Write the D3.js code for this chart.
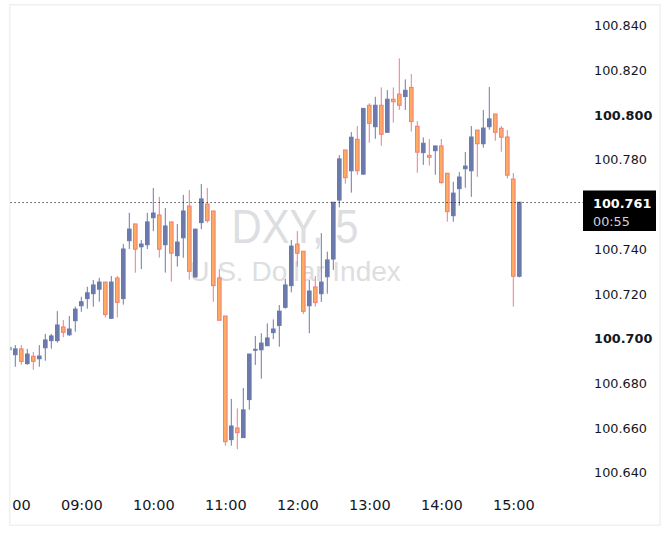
<!DOCTYPE html>
<html>
<head>
<meta charset="utf-8">
<script src="https://cdn.jsdelivr.net/npm/d3@7"></script>
<style>
  body { margin: 0; background: #fff; }
  svg { display: block; }
</style>
</head>
<body>
<div class="CHART"></div>
<script>

// 5 minute candles, DXY
var times = [
  "08:00","08:05","08:10","08:15","08:20","08:25","08:30","08:35","08:40","08:45",
  "08:50","08:55","09:00","09:05","09:10","09:15","09:20","09:25","09:30","09:35",
  "09:40","09:45","09:50","09:55","10:00","10:05","10:10","10:15","10:20","10:25",
  "10:30","10:35","10:40","10:45","10:50","10:55","11:00","11:05","11:10","11:15",
  "11:20","11:25","11:30","11:35","11:40","11:45","11:50","11:55","12:00","12:05",
  "12:10","12:15","12:20","12:25","12:30","12:35","12:40","12:45","12:50","12:55",
  "13:00","13:05","13:10","13:15","13:20","13:25","13:30","13:35","13:40","13:45",
  "13:50","13:55","14:00","14:05","14:10","14:15","14:20","14:25","14:30","14:35",
  "14:40","14:45","14:50","14:55","15:00","15:05"];

var opens = [
  100.6950,100.6928,100.6954,100.6888,100.6921,100.6910,100.6959,100.6991,100.6991,100.7052,
  100.7017,100.7080,100.7147,100.7179,100.7201,100.7221,100.7253,100.7091,100.7271,100.7179,
  100.7438,100.7513,100.7411,100.7420,100.7541,100.7553,100.7420,100.7522,100.7371,100.7451,
  100.7593,100.7276,100.7519,100.7602,100.7571,100.7271,100.7101,100.6548,100.6600,100.6557,
  100.6727,100.6948,100.6950,100.6968,100.7027,100.7059,100.7140,100.7237,100.7423,100.7391,
  100.7147,100.7231,100.7201,100.7277,100.7356,100.7620,100.7844,100.7751,100.7892,100.7736,
  100.8044,100.7948,100.8044,100.7923,100.8071,100.8094,100.8083,100.8124,100.7950,100.7832,
  100.7820,100.7841,100.7862,100.7740,100.7550,100.7671,100.7760,100.7751,100.7933,100.7872,
  100.7948,100.8005,100.7941,100.7902,100.7714,100.7279];

var highs = [
  100.6966,100.6971,100.6971,100.6954,100.6940,100.6971,100.7021,100.7021,100.7123,100.7083,
  100.7101,100.7143,100.7187,100.7232,100.7262,100.7272,100.7253,100.7280,100.7280,100.7423,
  100.7563,100.7513,100.7441,100.7563,100.7674,100.7634,100.7584,100.7522,100.7513,100.7643,
  100.7665,100.7490,100.7692,100.7674,100.7571,100.7311,100.7101,100.6730,100.6688,100.6779,
  100.6931,100.7012,100.7024,100.7068,100.7086,100.7150,100.7267,100.7441,100.7481,100.7391,
  100.7262,100.7280,100.7472,100.7389,100.7610,100.7821,100.7844,100.7924,100.7951,100.8030,
  100.8053,100.8082,100.8124,100.8112,100.8124,100.8254,100.8160,100.8184,100.7973,100.7900,
  100.7892,100.7862,100.7893,100.7740,100.7702,100.7745,100.7835,100.7951,100.7933,100.8023,
  100.8126,100.8005,100.7951,100.7933,100.7741,100.7610];

var lows = [
  100.6938,100.6874,100.6883,100.6883,100.6860,100.6874,100.6901,100.6955,100.6982,100.7006,
  100.7012,100.7031,100.7120,100.7134,100.7143,100.7165,100.7095,100.7088,100.7095,100.7152,
  100.7401,100.7295,100.7311,100.7401,100.7481,100.7362,100.7295,100.7255,100.7322,100.7362,
  100.7264,100.7273,100.7490,100.7519,100.7165,100.7082,100.6521,100.6521,100.6505,100.6557,
  100.6682,100.6882,100.6821,100.6968,100.6998,100.6964,100.7134,100.7207,100.7322,100.7110,
  100.7024,100.7143,100.7164,100.7201,100.7307,100.7587,100.7693,100.7653,100.7733,100.7733,
  100.7877,100.7894,100.7863,100.7923,100.7966,100.8023,100.8023,100.7926,100.7742,100.7777,
  100.7774,100.7733,100.7693,100.7523,100.7523,100.7595,100.7675,100.7634,100.7724,100.7854,
  100.7935,100.7885,100.7836,100.7717,100.7143,100.7274];

var closes = [
  100.6961,100.6954,100.6898,100.6931,100.6898,100.6922,100.6994,100.7012,100.7061,100.7028,
  100.7043,100.7132,100.7165,100.7205,100.7240,100.7253,100.7108,100.7253,100.7162,100.7401,
  100.7490,100.7400,100.7423,100.7522,100.7562,100.7400,100.7504,100.7382,100.7432,100.7571,
  100.7301,100.7490,100.7625,100.7528,100.7237,100.7082,100.6539,100.6609,100.6579,100.6681,
  100.6931,100.6952,100.6980,100.7003,100.7043,100.7123,100.7240,100.7414,100.7382,100.7122,
  100.7213,100.7161,100.7253,100.7352,100.7610,100.7804,100.7720,100.7901,100.7751,100.8030,
  100.7963,100.8044,100.7914,100.8071,100.8060,100.8044,100.8111,100.7971,100.7834,100.7874,
  100.7811,100.7862,100.7698,100.7568,100.7651,100.7723,100.7772,100.7902,100.7872,100.7942,
  100.7983,100.7923,100.7901,100.7731,100.7279,100.7610];

// 100.760 sits under the last price box, so it is left out
var priceTicks = [100.640, 100.660, 100.680, 100.700, 100.720, 100.740, 100.780, 100.800, 100.820, 100.840];
var boldTicks = [100.700, 100.800];
var timeTicks = ["08:00","09:00","10:00","11:00","12:00","13:00","14:00","15:00"];
var lastPrice = 100.761;
var countdown = "00:55";

var width = 670, height = 538;
var upColor = "#6b7aac", downFill = "#fcab5f", downLine = "#f27b85";

var parse = d3.timeParse("%H:%M");

var x = d3.scaleTime()
    .domain([parse("08:00"), parse("15:00")])
    .range([9.3, 513.3]);

var y = d3.scaleLinear()
    .domain([100.640, 100.840])
    .range([472.7, 25.7]);

var canvas = d3.select(".CHART").append("svg")
    .attr("width", width)
    .attr("height", height)
    .style("font-family", "'DejaVu Sans', sans-serif");

canvas.append("defs").append("clipPath")
    .attr("id", "plot")
  .append("rect")
    .attr("x", 10.6).attr("y", 5.5)
    .attr("width", 570).attr("height", 519);

// frame
canvas.append("rect")
    .attr("x", 9.75).attr("y", 4.75)
    .attr("width", 650.5).attr("height", 520.5)
    .attr("fill", "none")
    .attr("stroke", "#f1f1f1")
    .attr("stroke-width", 1.6);

// watermark
canvas.append("text")
    .attr("x", 295).attr("y", 243)
    .attr("text-anchor", "middle")
    .attr("textLength", 127)
    .attr("lengthAdjust", "spacingAndGlyphs")
    .style("font-family", "'Liberation Sans', Arial, sans-serif")
    .style("font-size", "49px")
    .attr("fill", "#dddee1")
    .text("DXY, 5");

canvas.append("text")
    .attr("x", 295).attr("y", 281)
    .attr("text-anchor", "middle")
    .style("font-family", "'Liberation Sans', Arial, sans-serif")
    .style("font-size", "28px")
    .attr("fill", "#dddee1")
    .text("U.S. Dollar Index");

var candles = [];
for (var i = 0; i < times.length; i++) {
  candles.push({t: parse(times[i]), o: opens[i], h: highs[i], l: lows[i], c: closes[i]});
}

var plot = canvas.append("g").attr("clip-path", "url(#plot)");

var bars = plot.selectAll("g.candle")
    .data(candles)
  .enter().append("g")
    .attr("class", "candle");

bars.append("line")
    .attr("x1", function(d) { return x(d.t); })
    .attr("x2", function(d) { return x(d.t); })
    .attr("y1", function(d) { return y(d.h); })
    .attr("y2", function(d) { return y(d.l); })
    .attr("stroke", function(d) { return d.c >= d.o ? upColor : downLine; })
    .attr("stroke-width", 1);

bars.append("rect")
    .attr("x", function(d) { return x(d.t) - 1.8; })
    .attr("width", 3.6)
    .attr("y", function(d) { return y(Math.max(d.o, d.c)); })
    .attr("height", function(d) { return Math.max(0.6, Math.abs(y(d.o) - y(d.c))); })
    .attr("fill", function(d) { return d.c >= d.o ? upColor : downFill; })
    .attr("stroke", function(d) { return d.c >= d.o ? upColor : downLine; })
    .attr("stroke-width", 1);

// last price line
var lastY = Math.round(y(lastPrice)) + 0.5;
canvas.append("line")
    .attr("x1", 10.6).attr("x2", 583)
    .attr("y1", lastY).attr("y2", lastY)
    .attr("stroke", "#000")
    .attr("stroke-width", 1)
    .attr("stroke-dasharray", "1,3");

// price axis
var yAxis = canvas.append("g")
    .attr("transform", "translate(594,0)")
    .call(d3.axisRight(y).tickValues(priceTicks).tickSize(0).tickPadding(0).tickFormat(d3.format(".3f")));
yAxis.select(".domain").remove();
yAxis.selectAll("text")
    .attr("fill", "#131722")
    .style("font-size", "12.8px")
    .style("font-family", "'DejaVu Sans', sans-serif")
    .style("font-weight", function(d) { return boldTicks.indexOf(d) >= 0 ? "bold" : "normal"; });

// last price box
canvas.append("rect")
    .attr("x", 583).attr("y", lastY - 12)
    .attr("width", 73).attr("height", 40.5)
    .attr("fill", "#000");
canvas.append("text")
    .attr("x", 593).attr("y", lastY + 5)
    .attr("fill", "#fff")
    .style("font-size", "12.8px")
    .style("font-weight", "bold")
    .text(d3.format(".3f")(lastPrice));
canvas.append("text")
    .attr("x", 593).attr("y", lastY + 23)
    .attr("fill", "#d1d4dc")
    .style("font-size", "12.8px")
    .text(countdown);

// time axis
canvas.append("defs").append("clipPath")
    .attr("id", "timeclip")
  .append("rect")
    .attr("x", 11.5).attr("y", 480)
    .attr("width", 650).attr("height", 45);

var xAxis = canvas.append("g")
    .attr("clip-path", "url(#timeclip)")
  .append("g")
    .attr("transform", "translate(0,500)")
    .call(d3.axisBottom(x).tickValues(timeTicks.map(parse)).tickSize(0).tickPadding(0).tickFormat(d3.timeFormat("%H:%M")));
xAxis.select(".domain").remove();
xAxis.selectAll("text")
    .attr("fill", "#131722")
    .style("font-size", "14.5px")
    .style("font-family", "'DejaVu Sans', sans-serif");

</script>
</body>
</html>
